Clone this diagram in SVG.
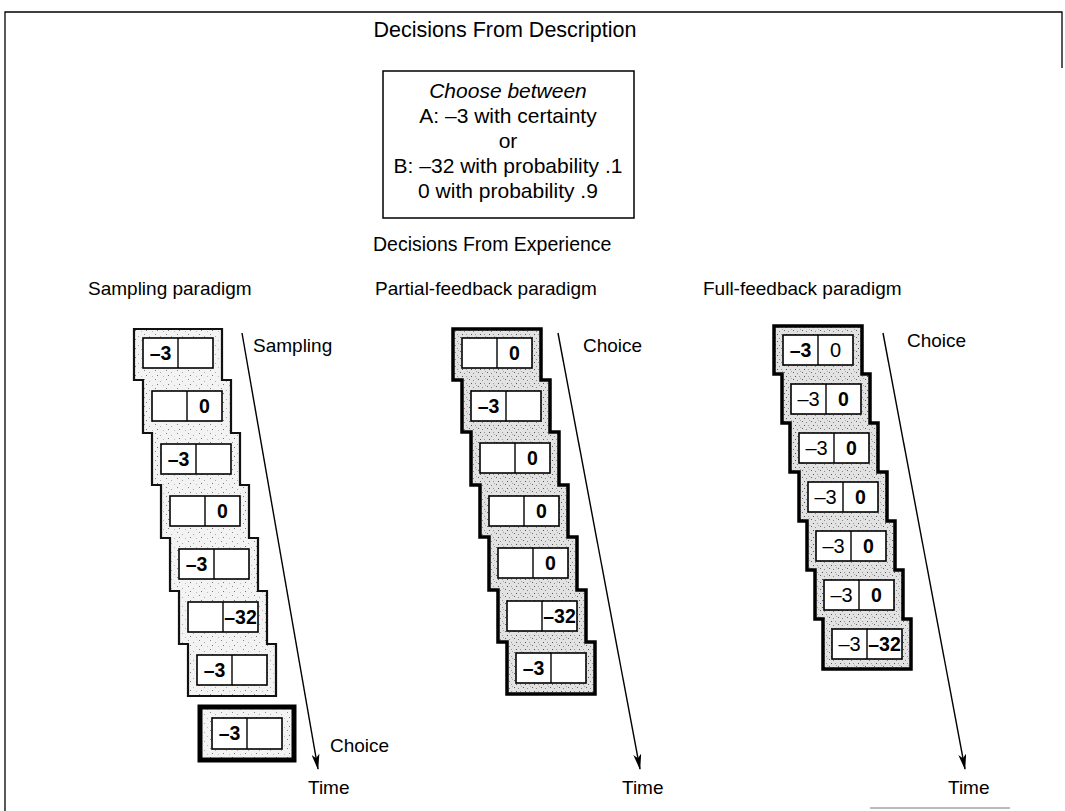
<svg xmlns="http://www.w3.org/2000/svg" width="1065" height="811" viewBox="0 0 1065 811">
<defs>
<pattern id="speckLight" width="11" height="9" patternUnits="userSpaceOnUse">
<rect width="11" height="9" fill="#f3f3f3"/>
<rect x="1" y="1" width="1" height="1" fill="#888"/>
<rect x="6" y="3" width="1" height="1" fill="#aaa"/>
<rect x="3" y="6" width="1" height="1" fill="#777"/>
<rect x="9" y="7" width="1" height="1" fill="#bbb"/>
</pattern>
<pattern id="speck" width="9" height="7" patternUnits="userSpaceOnUse">
<rect width="9" height="7" fill="#e2e2e2"/>
<rect x="1" y="1" width="1" height="1" fill="#666"/>
<rect x="5" y="2" width="1" height="1" fill="#888"/>
<rect x="3" y="5" width="1" height="1" fill="#555"/>
<rect x="7" y="5" width="1" height="1" fill="#999"/>
<rect x="8" y="0" width="1" height="1" fill="#aaa"/>
</pattern>
<marker id="arrow" markerWidth="16" markerHeight="8" refX="15" refY="4" orient="auto" markerUnits="userSpaceOnUse" viewBox="0 0 16 8">
<path d="M0,0 L16,4 L0,8 L4,4 Z" fill="#000"/>
</marker>
<style>
.t{font-family:"Liberation Sans",Arial,sans-serif;font-size:19px;fill:#000}
.h{font-family:"Liberation Sans",Arial,sans-serif;fill:#000}
.d{font-family:"Liberation Sans",Arial,sans-serif;font-size:21px;fill:#000;text-anchor:middle}
.n{font-family:"Liberation Sans",Arial,sans-serif;font-size:19.5px;font-weight:bold;fill:#000;text-anchor:middle}
.r{font-family:"Liberation Sans",Arial,sans-serif;font-size:20px;fill:#000;text-anchor:middle}
.cell{fill:#fff;stroke:#000;stroke-width:1.6}
.div{stroke:#000;stroke-width:1.4}
.stairL{fill:url(#speckLight);stroke:#111;stroke-width:2.2;stroke-linejoin:miter}
.stair{fill:url(#speck);stroke:#000;stroke-width:3.5;stroke-linejoin:miter}
.conn{stroke:#000;stroke-width:1.4;fill:none}
</style>
</defs>
<rect width="1065" height="811" fill="#fff"/>
<g id="frame" fill="none" stroke="#000" stroke-width="1.3">
<path d="M5,811 V12 H1062 V68"/>
<path d="M870,808 H1010" stroke="#bbb" stroke-width="2"/>
</g>

<g id="title-description"><text class="h" x="505" y="37" text-anchor="middle" style="font-size:21.5px">Decisions From Description</text></g>

<g id="description-box">
<rect x="383" y="71" width="251" height="147" fill="#fff" stroke="#000" stroke-width="1.5"/>
<text class="d" x="508" y="98" font-style="italic">Choose between</text>
<text class="d" x="508" y="123">A: –3 with certainty</text>
<text class="d" x="508" y="148">or</text>
<text class="d" x="508" y="173">B: –32 with probability .1</text>
<text class="d" x="508" y="198">0 with probability .9</text>
</g>

<g id="title-experience"><text class="h" x="373" y="251" style="font-size:19.5px">Decisions From Experience</text></g>

<g id="label-sampling"><text class="t" x="88" y="295">Sampling paradigm</text></g>
<g id="label-partial"><text class="t" x="375" y="295">Partial-feedback paradigm</text></g>
<g id="label-full"><text class="t" x="703" y="295">Full-feedback paradigm</text></g>

<!-- Sampling column -->
<g id="sampling-stack">
<path class="stairL" d="M134,329 H222 V380 H231 V433 H240 V485 H249 V538 H258 V591 H267 V644 H276 V696 H188 V644 H179 V591 H170 V538 H161 V485 H152 V433 H143 V380 H134 Z"/>
<rect class="cell" x="143" y="338" width="70" height="30"/><line class="div" x1="178" y1="338" x2="178" y2="368"/><text class="n" x="160.5" y="360">–3</text>
<rect class="cell" x="152" y="391" width="70" height="30"/><line class="div" x1="187" y1="391" x2="187" y2="421"/><text class="n" x="204.5" y="413">0</text>
<rect class="cell" x="161" y="444" width="70" height="30"/><line class="div" x1="196" y1="444" x2="196" y2="474"/><text class="n" x="178.5" y="466">–3</text>
<rect class="cell" x="170" y="496" width="70" height="30"/><line class="div" x1="205" y1="496" x2="205" y2="526"/><text class="n" x="222.5" y="518">0</text>
<rect class="cell" x="179" y="549" width="70" height="30"/><line class="div" x1="214" y1="549" x2="214" y2="579"/><text class="n" x="196.5" y="571">–3</text>
<rect class="cell" x="188" y="602" width="70" height="30"/><line class="div" x1="223" y1="602" x2="223" y2="632"/><text class="n" x="240.5" y="624">–32</text>
<rect class="cell" x="197" y="655" width="70" height="30"/><line class="div" x1="232" y1="655" x2="232" y2="685"/><text class="n" x="214.5" y="677">–3</text>
</g>
<g id="sampling-choice">
<rect x="200" y="707" width="94" height="53" fill="url(#speckLight)" stroke="#000" stroke-width="5"/>
<rect class="cell" x="212" y="718" width="70" height="31"/><line class="div" x1="247" y1="718" x2="247" y2="749"/><text class="n" x="229.5" y="740">–3</text>
</g>

<!-- Partial-feedback column -->
<g id="partial-stack">
<path class="stair" d="M453,329 H541 V380 H550 V432 H559 V485 H568 V537 H577 V590 H586 V642 H595 V694 H507 V642 H498 V590 H489 V537 H480 V485 H471 V432 H462 V380 H453 Z"/>
<rect class="cell" x="462" y="338" width="70" height="30"/><line class="div" x1="497" y1="338" x2="497" y2="368"/><text class="n" x="514.5" y="360">0</text>
<rect class="cell" x="471" y="391" width="70" height="30"/><line class="div" x1="506" y1="391" x2="506" y2="421"/><text class="n" x="488.5" y="413">–3</text>
<rect class="cell" x="480" y="443" width="70" height="30"/><line class="div" x1="515" y1="443" x2="515" y2="473"/><text class="n" x="532.5" y="465">0</text>
<rect class="cell" x="489" y="496" width="70" height="30"/><line class="div" x1="524" y1="496" x2="524" y2="526"/><text class="n" x="541.5" y="518">0</text>
<rect class="cell" x="498" y="548" width="70" height="30"/><line class="div" x1="533" y1="548" x2="533" y2="578"/><text class="n" x="550.5" y="570">0</text>
<rect class="cell" x="507" y="601" width="70" height="30"/><line class="div" x1="542" y1="601" x2="542" y2="631"/><text class="n" x="559.5" y="623">–32</text>
<rect class="cell" x="516" y="653" width="70" height="30"/><line class="div" x1="551" y1="653" x2="551" y2="683"/><text class="n" x="533.5" y="675">–3</text>
</g>

<!-- Full-feedback column -->
<g id="full-stack">
<path class="stair" d="M774,326 H862 V374 H870 V423 H878 V472 H887 V521 H895 V570 H903 V619 H911 V669 H823 V619 H815 V570 H807 V521 H799 V472 H790 V423 H782 V374 H774 Z"/>
<rect class="cell" x="783" y="335" width="70" height="30"/><line class="div" x1="818" y1="335" x2="818" y2="365"/><text class="n" x="800.5" y="357">–3</text><text class="r" x="835.5" y="357">0</text>
<rect class="cell" x="791" y="384" width="70" height="30"/><line class="div" x1="826" y1="384" x2="826" y2="414"/><text class="r" x="808.5" y="406">–3</text><text class="n" x="843.5" y="406">0</text>
<rect class="cell" x="799" y="433" width="70" height="30"/><line class="div" x1="834" y1="433" x2="834" y2="463"/><text class="r" x="816.5" y="455">–3</text><text class="n" x="851.5" y="455">0</text>
<rect class="cell" x="808" y="482" width="70" height="30"/><line class="div" x1="843" y1="482" x2="843" y2="512"/><text class="r" x="825.5" y="504">–3</text><text class="n" x="860.5" y="504">0</text>
<rect class="cell" x="816" y="531" width="70" height="30"/><line class="div" x1="851" y1="531" x2="851" y2="561"/><text class="r" x="833.5" y="553">–3</text><text class="n" x="868.5" y="553">0</text>
<rect class="cell" x="824" y="580" width="70" height="30"/><line class="div" x1="859" y1="580" x2="859" y2="610"/><text class="r" x="841.5" y="602">–3</text><text class="n" x="876.5" y="602">0</text>
<rect class="cell" x="832" y="629" width="70" height="30"/><line class="div" x1="867" y1="629" x2="867" y2="659"/><text class="r" x="849.5" y="651">–3</text><text class="n" x="884.5" y="651">–32</text>
</g>

<g id="connectors">
<line class="conn" x1="242" y1="333" x2="318" y2="769" marker-end="url(#arrow)"/>
<line class="conn" x1="558" y1="333" x2="640" y2="769" marker-end="url(#arrow)"/>
<line class="conn" x1="883" y1="333" x2="965" y2="769" marker-end="url(#arrow)"/>
</g>

<g id="axis-labels">
<text class="t" x="253" y="352">Sampling</text>
<text class="t" x="330" y="752">Choice</text>
<text class="t" x="308" y="794">Time</text>
<text class="t" x="583" y="352">Choice</text>
<text class="t" x="622" y="794">Time</text>
<text class="t" x="907" y="347">Choice</text>
<text class="t" x="948" y="794">Time</text>
</g>
</svg>
